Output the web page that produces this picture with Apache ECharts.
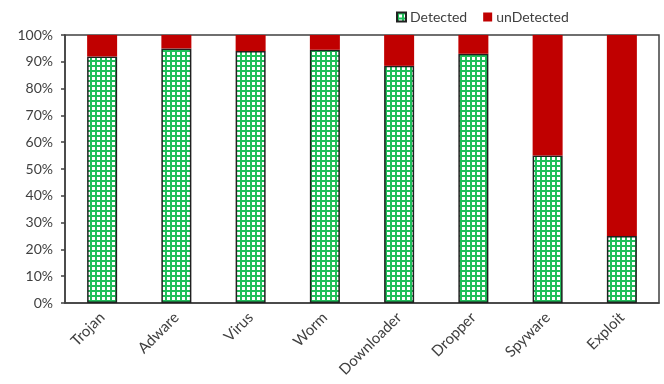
<!DOCTYPE html>
<html>
<head>
<meta charset="utf-8">
<script src="https://cdn.jsdelivr.net/npm/echarts@6/dist/echarts.min.js"></script>
<style>
  html, body { margin: 0; padding: 0; background: #fff; }
  #chart { width: 664px; height: 384px; }
</style>
</head>
<body>
<div id="chart"></div>
<script>
// Malware families and detection shares (percent)
const categories = ['Trojan', 'Adware', 'Virus', 'Worm', 'Downloader', 'Dropper', 'Spyware', 'Exploit'];
const detected   = [92, 95, 94, 94.5, 88.5, 93, 55, 25];
const undetected = [8, 5, 6, 5.5, 11.5, 7, 45, 75];
const yTicks = [0, 10, 20, 30, 40, 50, 60, 70, 80, 90, 100];

// Green checkered fill for the detected bars
function gridPattern() {
  const c = document.createElement('canvas');
  c.width = 5; c.height = 5;
  const g = c.getContext('2d');
  g.fillStyle = '#ffffff';
  g.fillRect(0, 0, 5, 5);
  g.fillStyle = '#1fbf5a';
  g.fillRect(0, 0, 5, 2);
  g.fillRect(0, 0, 2, 5);
  return c;
}

const chart = echarts.init(document.getElementById('chart'), null, { renderer: 'canvas' });
const axisColor = '#404040';
const font = 'Lato, "Liberation Sans", sans-serif';

chart.setOption({
  animation: false,
  textStyle: { fontFamily: font },
  legend: {
    top: 5,
    left: 391,
    icon: 'rect',
    itemWidth: 9,
    itemHeight: 9,
    itemGap: 16,
    textStyle: { fontSize: 14, color: '#404040', fontFamily: font, padding: [0, 0, 0, -1] },
    data: ['Detected', 'unDetected']
  },
  grid: {
    left: 65, right: 5, top: 35, bottom: 81,
    show: true, borderColor: axisColor, borderWidth: 1.5, backgroundColor: '#fff'
  },
  xAxis: {
    type: 'category',
    data: categories,
    axisLine: { lineStyle: { color: axisColor, width: 1.5 } },
    axisTick: { show: false },
    axisLabel: { rotate: 45, fontSize: 15, color: '#404040', margin: 12, interval: 0 }
  },
  yAxis: {
    type: 'value',
    min: 0, max: 100, interval: 10,
    splitLine: { show: false },
    axisLine: { show: true, lineStyle: { color: axisColor, width: 1.5 } },
    axisTick: { show: true, length: 4, lineStyle: { color: axisColor, width: 1.5 } },
    axisLabel: {
      fontSize: 14, color: '#404040', margin: 12,
      formatter: v => yTicks.includes(v) ? v + '%' : ''
    }
  },
  series: [
    {
      name: 'Detected',
      type: 'bar',
      stack: 'share',
      barWidth: 30,
      data: detected,
      itemStyle: {
        color: { image: gridPattern(), repeat: 'repeat' },
        borderColor: '#202020',
        borderWidth: 1.5
      }
    },
    {
      name: 'unDetected',
      type: 'bar',
      stack: 'share',
      barWidth: 30,
      data: undetected,
      itemStyle: { color: '#c00000' }
    }
  ]
});
</script>
</body>
</html>
